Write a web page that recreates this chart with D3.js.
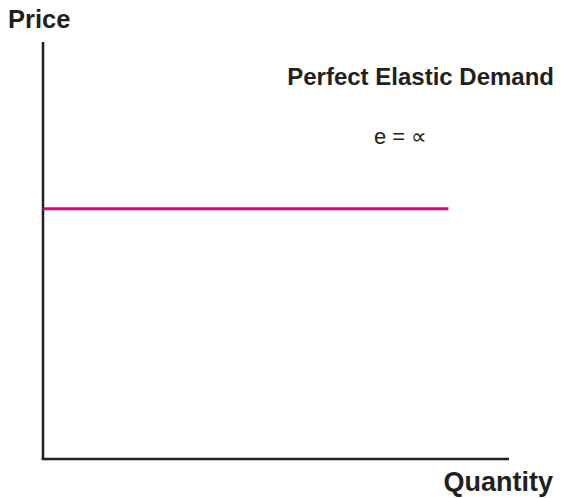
<!DOCTYPE html>
<html>
<head>
<meta charset="utf-8">
<script src="https://cdn.jsdelivr.net/npm/d3@7"></script>
<style>
  html, body { margin: 0; padding: 0; background: #fff; }
  svg { display: block; }
  text { font-family: "Liberation Sans", Arial, sans-serif; fill: #231f20; }
</style>
</head>
<body>
<div id="chart"></div>
<script>
// Data
const quantityDomain = [0, 100];
const priceDomain = [0, 100];
const demandQuantity = [0, 87];   // horizontal demand from Q=0 to Q=87
const demandPrice = [60, 60];     // constant price (perfectly elastic)
const axisLabels = ["Price", "Quantity"];
const titleText = "Perfect Elastic Demand";
const elasticityText = "e = \u221D";

const W = 565, H = 498;
const margin = { left: 43, right: 56, top: 42, bottom: 39 };

const svg = d3.select("#chart").append("svg").attr("width", W).attr("height", H);

const x = d3.scaleLinear().domain(quantityDomain).range([margin.left, W - margin.right]);
const y = d3.scaleLinear().domain(priceDomain).range([H - margin.bottom, margin.top]);

// axes
svg.append("line")
  .attr("x1", x(0)).attr("x2", x(0))
  .attr("y1", y(0) + 1).attr("y2", y(100))
  .attr("stroke", "#231f20").attr("stroke-width", 2.5);
svg.append("line")
  .attr("x1", x(0) - 1.25).attr("x2", x(100))
  .attr("y1", y(0)).attr("y2", y(0))
  .attr("stroke", "#231f20").attr("stroke-width", 2.5);

// demand curve
const line = d3.line().x(d => x(d[0])).y(d => y(d[1]));
svg.append("path")
  .datum(d3.zip(demandQuantity, demandPrice))
  .attr("d", line)
  .attr("fill", "none")
  .attr("stroke", "#e4007f")
  .attr("stroke-width", 3);

// labels
svg.append("text").attr("x", 8).attr("y", 28)
  .attr("font-size", 25.5).attr("font-weight", "bold").text(axisLabels[0]);
svg.append("text").attr("x", 553).attr("y", 491).attr("text-anchor", "end")
  .attr("font-size", 27).attr("font-weight", "bold").text(axisLabels[1]);
svg.append("text").attr("x", 554).attr("y", 85).attr("text-anchor", "end")
  .attr("font-size", 24).attr("font-weight", "bold").text(titleText);
svg.append("text").attr("x", 374).attr("y", 144)
  .attr("font-size", 22).text(elasticityText);
</script>
</body>
</html>
